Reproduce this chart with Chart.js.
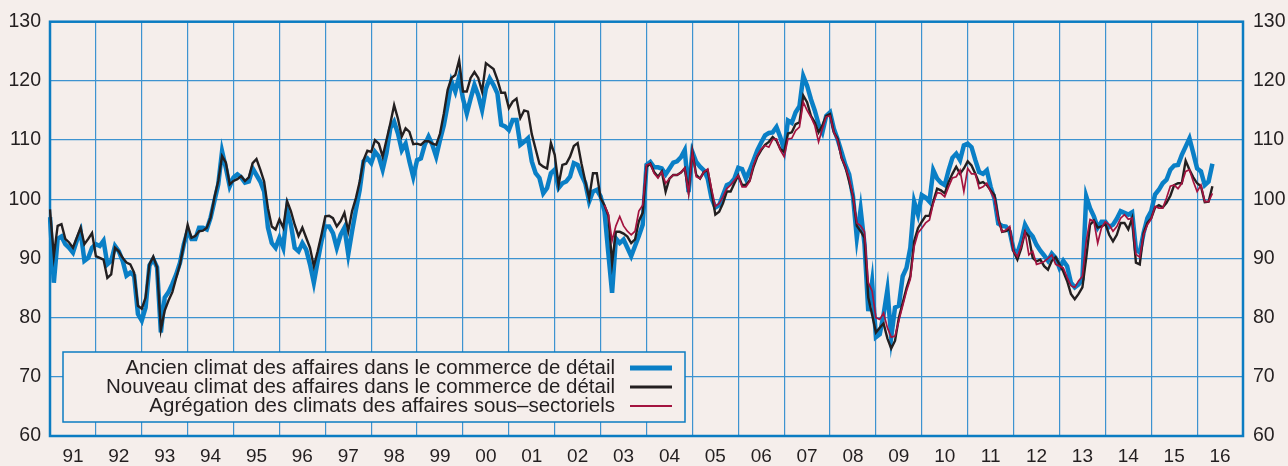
<!DOCTYPE html>
<html>
<head>
<meta charset="utf-8">
<script src="https://cdn.jsdelivr.net/npm/chart.js@4.4.1/dist/chart.umd.min.js"></script>
<style>
  html, body { margin: 0; padding: 0; background: #f5eeeb; }
  #wrap { width: 1288px; height: 466px; }
</style>
</head>
<body>
<div id="wrap"><canvas id="chart" width="1288" height="466"></canvas></div>
<script>
// monthly values, Jan 1991 -> May 2016
const ancien = [
  97.0, 85.9, 93.3, 93.7, 92.4, 91.8, 91.0, 93.0, 94.6, 89.6, 90.1, 91.8,
  92.4, 92.1, 93.0, 89.0, 89.6, 92.1, 91.2, 89.6, 87.1, 87.6, 87.1, 80.6,
  79.5, 81.7, 88.8, 89.9, 88.5, 77.5, 83.4, 84.3, 85.7, 87.3, 89.3, 92.4,
  94.6, 93.3, 93.3, 95.2, 95.2, 94.9, 96.9, 99.7, 102.5, 108.1, 105.3, 102.2,
  103.7, 104.2, 103.7, 102.8, 103.0, 105.2, 104.1, 103.0, 101.3, 95.2, 92.6, 91.8,
  93.5, 91.8, 98.2, 95.7, 91.8, 91.2, 92.6, 91.5, 89.0, 85.9, 89.5, 92.9,
  95.4, 95.4, 94.3, 91.8, 94.0, 95.2, 90.7, 94.6, 98.2, 101.6, 106.4, 106.9,
  106.1, 108.0, 107.2, 105.0, 107.8, 112.0, 113.1, 111.1, 108.3, 109.4, 106.4, 103.8,
  106.6, 106.9, 109.2, 110.6, 109.2, 107.2, 110.0, 112.5, 116.0, 119.9, 118.2, 120.7,
  117.0, 114.5, 117.0, 119.3, 117.6, 115.1, 118.7, 120.4, 119.3, 117.9, 112.6, 112.3,
  111.7, 113.4, 113.4, 109.2, 109.7, 110.3, 106.4, 104.4, 103.6, 101.0, 101.9, 104.4,
  105.0, 101.9, 102.7, 103.0, 103.8, 106.1, 105.8, 104.1, 102.7, 99.6, 101.3, 101.6,
  100.5, 98.0, 91.0, 84.2, 93.4, 92.6, 93.2, 91.8, 90.4, 92.1, 93.8, 95.7,
  105.8, 106.3, 105.4, 105.4, 105.2, 104.2, 105.2, 106.2, 106.4, 107.1, 108.3, 101.2,
  108.0, 106.3, 105.5, 104.9, 103.5, 100.2, 98.6, 99.0, 100.7, 102.4, 102.7, 103.5,
  105.3, 105.1, 103.5, 104.9, 106.6, 108.3, 109.6, 110.8, 111.2, 111.3, 112.2, 110.5,
  108.3, 113.3, 112.9, 114.7, 115.7, 120.8, 119.2, 116.9, 115.0, 112.7, 111.3, 114.1,
  114.7, 111.9, 110.1, 108.0, 105.8, 104.2, 100.5, 93.5, 98.3, 92.5, 81.1, 86.0,
  76.7, 77.2, 80.5, 84.7, 76.7, 81.7, 82.0, 87.0, 88.4, 91.8, 99.6, 97.4,
  100.7, 100.3, 99.6, 104.9, 103.5, 102.8, 102.4, 104.9, 107.0, 107.7, 106.6, 109.1,
  109.4, 108.8, 106.6, 104.6, 104.3, 104.9, 102.1, 100.1, 95.9, 95.5, 95.4, 94.5,
  91.5, 90.9, 92.9, 95.7, 94.5, 93.7, 92.3, 91.3, 90.5, 89.6, 90.8, 90.1,
  88.4, 89.6, 88.7, 85.9, 85.1, 85.6, 86.5, 100.5, 98.5, 97.1, 95.2, 96.2,
  96.2, 95.3, 95.7, 96.7, 98.0, 97.7, 97.4, 97.8, 91.5, 91.0, 94.3, 96.8,
  98.0, 100.8, 101.6, 102.7, 103.3, 105.0, 105.7, 105.8, 107.5, 108.9, 110.3, 107.8,
  105.2, 104.7, 102.4, 103.0, 106.0
];

const nouveau = [
  98.3, 90.4, 95.5, 95.8, 93.3, 92.7, 91.8, 93.5, 95.2, 92.4, 93.3, 94.3,
  90.4, 90.1, 89.8, 86.7, 87.3, 91.8, 91.2, 90.1, 89.3, 89.0, 87.6, 82.0,
  81.5, 83.4, 89.0, 90.3, 88.5, 78.0, 81.2, 82.9, 84.3, 86.7, 89.0, 92.4,
  95.7, 93.5, 93.8, 94.6, 94.7, 95.2, 96.9, 100.3, 103.1, 107.3, 106.2, 102.5,
  103.1, 103.4, 103.9, 103.1, 103.7, 106.1, 106.8, 105.0, 103.0, 98.5, 95.4, 94.9,
  96.6, 95.2, 99.7, 98.0, 95.7, 93.8, 95.2, 93.5, 91.8, 88.7, 91.2, 94.0,
  97.1, 97.2, 96.8, 95.4, 96.3, 97.7, 94.6, 98.0, 100.2, 103.0, 106.6, 108.2,
  108.0, 110.0, 109.4, 107.2, 110.0, 112.8, 115.9, 113.6, 110.6, 112.0, 111.4, 109.3,
  109.4, 109.2, 109.8, 109.8, 109.4, 109.2, 111.1, 114.5, 118.5, 120.5, 121.0, 123.5,
  118.2, 118.2, 120.5, 121.5, 120.5, 118.2, 123.0, 122.5, 122.0, 120.2, 118.0, 118.0,
  115.4, 116.5, 117.0, 113.7, 115.0, 114.8, 111.0, 108.5, 106.0, 105.5, 105.2, 109.5,
  107.5, 102.4, 105.8, 106.0, 107.2, 109.0, 109.5, 106.0, 103.0, 100.2, 104.4, 104.4,
  100.2, 99.0, 97.3, 89.2, 94.5, 94.5, 94.2, 93.7, 92.6, 93.2, 96.3, 97.7,
  105.5, 106.0, 104.6, 103.8, 104.7, 101.3, 103.5, 104.1, 104.1, 104.5, 105.2, 101.3,
  108.0, 104.1, 103.5, 104.6, 104.9, 101.3, 97.4, 97.9, 99.3, 101.3, 101.3, 102.7,
  104.0, 102.4, 102.4, 103.2, 105.5, 107.2, 108.3, 109.2, 109.7, 110.5, 109.9, 108.5,
  108.0, 111.1, 111.3, 112.7, 113.0, 117.5, 116.4, 114.1, 113.0, 111.3, 112.5, 114.1,
  114.4, 111.3, 110.2, 107.0, 105.5, 103.0, 100.5, 95.5, 94.6, 93.5, 83.4, 80.5,
  77.5, 78.3, 79.0, 76.5, 74.8, 76.1, 80.0, 82.5, 85.0, 87.0, 92.9, 95.1,
  96.2, 97.2, 97.2, 99.6, 101.8, 101.5, 101.0, 102.9, 104.3, 105.5, 104.3, 105.2,
  106.4, 105.7, 104.3, 102.7, 102.9, 102.4, 101.5, 100.7, 96.8, 94.5, 94.6, 95.0,
  91.2, 89.8, 91.7, 94.5, 93.7, 90.1, 89.5, 89.8, 88.7, 88.1, 89.6, 90.2,
  89.0, 87.8, 86.2, 84.0, 83.1, 84.0, 85.1, 90.1, 95.7, 96.4, 95.2, 95.4,
  95.8, 94.0, 92.9, 94.0, 96.0, 96.0, 94.9, 96.8, 89.3, 89.0, 94.3, 96.0,
  96.8, 98.6, 99.0, 98.6, 99.4, 100.6, 102.4, 102.7, 102.7, 106.5, 105.0, 103.7,
  102.7, 102.2, 99.5, 99.6, 102.2
];

// starts Feb 2003
const agregFirstMonth = '2003-02';
const agregation = [
  99.0, 97.5, 93.0, 95.5, 97.1, 95.5, 94.6, 94.0, 94.6, 98.0, 99.0,
  105.8, 106.0, 104.4, 103.6, 104.6, 102.7, 103.5, 104.1, 104.1, 104.5, 105.3, 101.0,
  108.0, 103.8, 103.5, 104.6, 105.1, 101.8, 98.8, 99.3, 100.4, 101.8, 102.4, 103.2,
  104.0, 102.1, 102.1, 103.0, 105.8, 107.4, 108.5, 109.1, 108.8, 110.1, 110.2, 108.3,
  107.2, 110.2, 110.3, 111.6, 112.2, 116.4, 115.0, 113.9, 112.5, 109.7, 111.9, 113.9,
  114.1, 111.3, 109.9, 107.0, 105.5, 103.5, 100.5, 96.0, 95.5, 94.5, 85.9, 84.5,
  80.0, 79.7, 80.8, 78.3, 76.7, 76.9, 79.5, 82.0, 84.5, 86.5, 92.0, 94.3,
  95.1, 96.0, 96.5, 99.3, 101.1, 101.0, 100.4, 102.1, 103.6, 103.8, 104.9, 101.3,
  105.2, 104.3, 104.3, 101.8, 102.1, 102.7, 101.3, 100.1, 96.5, 94.5, 94.8, 95.4,
  91.2, 90.3, 92.0, 94.5, 90.6, 91.2, 89.0, 89.2, 89.5, 90.0, 90.6, 89.0,
  88.7, 88.4, 86.8, 85.4, 85.1, 86.2, 87.0, 92.9, 96.6, 96.3, 92.6, 95.2,
  96.2, 95.7, 94.6, 95.4, 96.8, 97.4, 96.6, 96.8, 90.7, 90.2, 94.0, 95.7,
  96.7, 98.8, 98.5, 98.5, 100.2, 102.2, 102.4, 101.8, 102.7, 104.7, 105.0, 103.0,
  101.3, 102.4, 99.6, 99.6, 101.0
];

const legendLabels = [
  'Ancien climat des affaires dans le commerce de détail',
  'Nouveau climat des affaires dans le commerce de détail',
  'Agrégation des climats des affaires sous\u2013sectoriels'
];
const yTicks = [60, 70, 80, 90, 100, 110, 120, 130];

// month labels Jan 1991 .. Jan 2017 (last one closes the frame)
const months = [];
for (let y = 1991; y <= 2017; y++) {
    for (let m = 1; m <= 12; m++) {
        months.push(y + '-' + String(m).padStart(2, '0'));
        if (y === 2017) break;
    }
}
const agregStart = months.indexOf(agregFirstMonth);
const agregSeries = Array(agregStart).fill(null).concat(agregation);

const BG = '#f5eeeb';
const FRAME = '#0b7cc2';
const GRID = '#3d93d0';
const TXT = '#231f20';
const FONT = '"Liberation Sans", Arial, Helvetica, sans-serif';

const colors = ['#0a7fc6', '#231f20', '#a3133f'];
const widths = [4.5, 2.4, 1.7];

const bgPlugin = {
    id: 'bg',
    beforeDraw(chart) {
        const c = chart.ctx;
        c.save();
        c.fillStyle = BG;
        c.fillRect(0, 0, chart.width, chart.height);
        c.restore();
    }
};

const framePlugin = {
    id: 'frame',
    beforeDatasetsDraw(chart) {
        const a = chart.chartArea;
        const c = chart.ctx;
        c.save();
        c.strokeStyle = FRAME;
        c.lineWidth = 2.5;
        c.strokeRect(a.left, a.top, a.right - a.left, a.bottom - a.top);
        c.restore();
    }
};

// legend box drawn bottom-left inside the plot, text right aligned, sample on the right
const legendPlugin = {
    id: 'boxLegend',
    afterDraw(chart) {
        const c = chart.ctx;
        const x0 = 63, y0 = 352, w = 622, h = 70;
        c.save();
        c.fillStyle = BG;
        c.fillRect(x0, y0, w, h);
        c.strokeStyle = FRAME;
        c.lineWidth = 1.5;
        c.strokeRect(x0, y0, w, h);
        c.font = '20.5px ' + FONT;
        c.fillStyle = TXT;
        c.textAlign = 'right';
        c.textBaseline = 'middle';
        const rows = [368, 387, 406];
        chart.data.datasets.forEach((ds, i) => {
            c.fillText(ds.label, 615, rows[i]);
            c.strokeStyle = ds.borderColor;
            c.lineWidth = ds.borderWidth + 0.5;
            c.beginPath();
            c.moveTo(630, rows[i]);
            c.lineTo(672, rows[i]);
            c.stroke();
        });
        c.restore();
    }
};

const yScale = (pos, width) => ({
    type: 'linear',
    position: pos,
    min: 60,
    max: 130,
    afterBuildTicks: (s) => { s.ticks = yTicks.map(v => ({ value: v })); },
    afterFit: (s) => { s.width = width; },
    grid: {
        display: pos === 'left',
        drawOnChartArea: pos === 'left',
        drawTicks: false,
        color: GRID,
        lineWidth: 1.2
    },
    border: { display: false },
    ticks: {
        color: TXT,
        font: { family: FONT, size: 19.5 },
        padding: pos === 'left' ? 9 : 10
    }
});

new Chart(document.getElementById('chart'), {
    type: 'line',
    data: {
        labels: months,
        datasets: [
            { label: legendLabels[0], data: ancien, borderColor: colors[0], borderWidth: widths[0], order: 3 },
            { label: legendLabels[1], data: nouveau, borderColor: colors[1], borderWidth: widths[1], order: 2 },
            { label: legendLabels[2], data: agregSeries, borderColor: colors[2], borderWidth: widths[2], order: 1 }
        ].map(d => Object.assign(d, { pointRadius: 0, tension: 0, fill: false, spanGaps: false, borderJoinStyle: 'miter' }))
    },
    options: {
        responsive: false,
        animation: false,
        layout: { padding: { top: 20, left: 0, right: 0, bottom: 0 } },
        plugins: {
            legend: { display: false },
            tooltip: { enabled: false }
        },
        scales: {
            x: {
                type: 'category',
                offset: false,
                afterFit: (s) => { s.height = 30; },
                grid: {
                    drawTicks: false,
                    color: (ctx) => (ctx.index % 12 === 0 ? GRID : 'rgba(0,0,0,0)'),
                    lineWidth: 1.2
                },
                border: { display: false },
                ticks: {
                    autoSkip: false,
                    maxRotation: 0,
                    padding: 9,
                    color: TXT,
                    font: { family: FONT, size: 19 },
                    callback: function (v, i) {
                        return i % 12 === 6 ? months[i].slice(2, 4) : '';
                    }
                }
            },
            y: yScale('left', 50),
            y2: yScale('right', 45)
        }
    },
    plugins: [bgPlugin, framePlugin, legendPlugin]
});
</script>
</body>
</html>
